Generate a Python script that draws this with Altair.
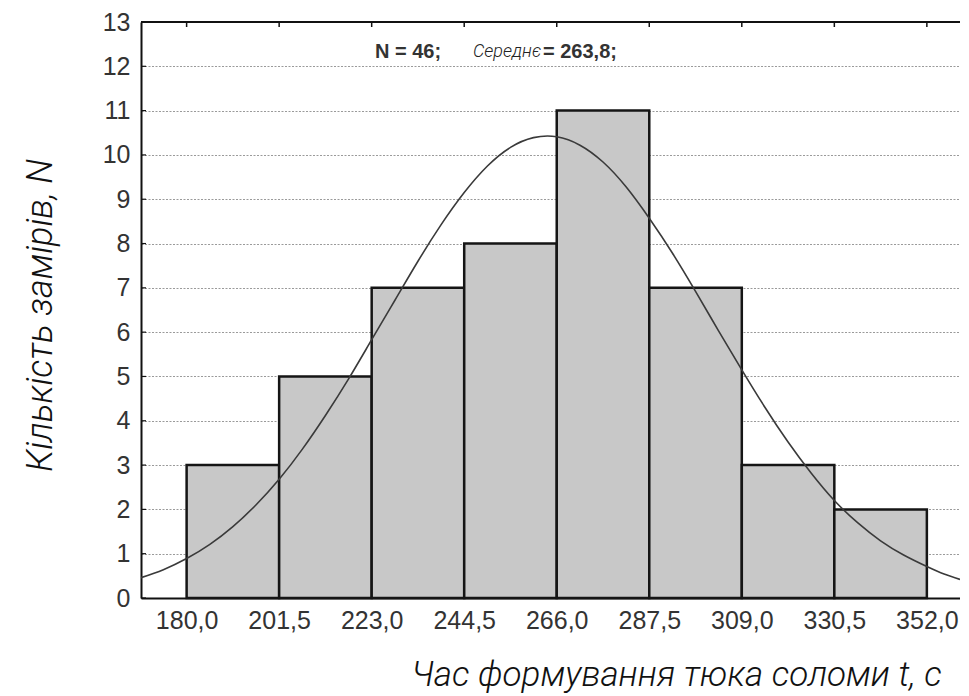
import altair as alt
import pandas as pd

# histogram bins (time, s) and counts
bin_start = [180.0, 201.5, 223.0, 244.5, 266.0, 287.5, 309.0, 330.5]
bin_end = [201.5, 223.0, 244.5, 266.0, 287.5, 309.0, 330.5, 352.0]
counts = [3, 5, 7, 8, 11, 7, 3, 2]

# fitted normal curve
curve_x = [169.4, 174.6, 180.0, 185.4, 190.75, 196.1, 201.5, 206.9, 212.25, 217.6,
           223.0, 228.4, 233.75, 239.1, 244.5, 249.9, 255.25, 260.6, 266.0, 271.4,
           276.75, 282.1, 287.5, 292.9, 298.25, 303.6, 309.0, 314.4, 319.75, 325.1,
           330.5, 335.9, 341.25, 346.6, 352.0, 356.0, 359.7]
curve_y = [0.46, 0.64, 0.89, 1.21, 1.61, 2.10, 2.68, 3.36, 4.12, 4.94,
           5.83, 6.72, 7.60, 8.42, 9.15, 9.75, 10.17, 10.39, 10.41, 10.22,
           9.84, 9.28, 8.57, 7.78, 6.92, 6.03, 5.15, 4.30, 3.52, 2.82,
           2.20, 1.70, 1.29, 0.97, 0.71, 0.54, 0.42]

x_ticks = [180.0, 201.5, 223.0, 244.5, 266.0, 287.5, 309.0, 330.5, 352.0]
y_ticks = list(range(0, 14))

x_title = "Час формування тюка соломи t, с"
y_title = "Кількість замірів, N"
ann_n = "N = 46;"
ann_mean_word = "Середнє"
ann_mean_val = "= 263,8;"

W, H = 819, 576
X_DOM = [169.4, 359.7]
GOST = "Roboto"

bars_df = pd.DataFrame({"start": bin_start, "end": bin_end, "count": counts})
curve_df = pd.DataFrame({"x": curve_x, "y": curve_y})
xt_df = pd.DataFrame({"x": x_ticks})
yt_df = pd.DataFrame({"y": y_ticks})

xscale = alt.Scale(domain=X_DOM, nice=False, zero=False)
yscale = alt.Scale(domain=[0, 13], nice=False)

x_axis = alt.Axis(
    values=x_ticks,
    labelExpr="replace(format(datum.value, '.1f'), '.', ',')",
    labelFont="Liberation Sans", labelFontSize=25, labelColor="#333333",
    labelPadding=10, tickSize=0, grid=False,
    domainColor="#111111", domainWidth=2,
    title=x_title, titleFont=GOST, titleFontStyle="italic", titleFontWeight=300,
    titleFontSize=35, titleColor="#111111", titleX=535, titleY=87,
    titleAlign="center", titleBaseline="alphabetic", titleAnchor="start",
)
y_axis = alt.Axis(
    values=y_ticks, format="d",
    labelFont="Liberation Sans", labelFontSize=25, labelColor="#333333",
    labelPadding=11, tickSize=0,
    grid=True, gridColor="#9a9a9a", gridDash=[2, 1.5], gridWidth=1,
    domainColor="#111111", domainWidth=2,
    title=y_title, titleFont=GOST, titleFontStyle="italic", titleFontWeight=300,
    titleFontSize=36, titleColor="#111111", titleAngle=270, titleX=-90, titleY=293,
    titleAlign="center", titleBaseline="alphabetic", titleAnchor="start",
)

base_axes = alt.Chart(yt_df).mark_rule(opacity=0).encode(
    y=alt.Y("y:Q", scale=yscale, axis=y_axis),
    x=alt.X("yy:Q", scale=xscale, axis=x_axis),
).transform_calculate(yy="180")

bars = alt.Chart(bars_df).mark_rect(
    fill="#c8c8c8", stroke="#151515", strokeWidth=2.5
).encode(
    x=alt.X("start:Q", scale=xscale),
    x2="end:Q",
    y=alt.Y("count:Q", scale=yscale),
    y2=alt.datum(0),
)

curve = alt.Chart(curve_df).mark_line(
    color="#3a3a3a", strokeWidth=1.6, interpolate="natural"
).encode(
    x=alt.X("x:Q", scale=xscale),
    y=alt.Y("y:Q", scale=yscale),
)

top_line = alt.Chart(yt_df).mark_rule(color="#111111", strokeWidth=2).encode(
    y=alt.datum(13), x=alt.value(0), x2=alt.value(W)
)

top_ticks = alt.Chart(xt_df).mark_rule(color="#111111", strokeWidth=1.5).encode(
    x=alt.X("x:Q", scale=xscale), y=alt.value(0), y2=alt.value(5)
)

left_ticks = alt.Chart(yt_df).mark_rule(color="#111111", strokeWidth=1.2).encode(
    y=alt.Y("y:Q", scale=yscale), x=alt.value(0), x2=alt.value(5)
)

t1 = alt.Chart(yt_df.head(1)).mark_text(
    text=ann_n, font="Liberation Sans", fontSize=20, fontWeight="bold",
    color="#333333", align="left", baseline="alphabetic"
).encode(x=alt.value(234), y=alt.value(36))
t2 = alt.Chart(yt_df.head(1)).mark_text(
    text=ann_mean_word, font=GOST, fontSize=18, fontStyle="italic", fontWeight=300,
    color="#222222", align="left", baseline="alphabetic"
).encode(x=alt.value(332), y=alt.value(35))
t3 = alt.Chart(yt_df.head(1)).mark_text(
    text=ann_mean_val, font="Liberation Sans", fontSize=20, fontWeight="bold",
    color="#333333", align="left", baseline="alphabetic"
).encode(x=alt.value(402), y=alt.value(36))

chart = alt.layer(
    base_axes, bars, curve, top_line, top_ticks, left_ticks, t1, t2, t3
).properties(
    width=W, height=H,
    autosize=alt.AutoSizeParams(type="none"),
    padding={"left": 133, "top": 14, "right": 0, "bottom": 98},
    background="white",
).configure_view(stroke=None)

chart.save("out.html", embed_options={"renderer": "svg", "actions": False})
